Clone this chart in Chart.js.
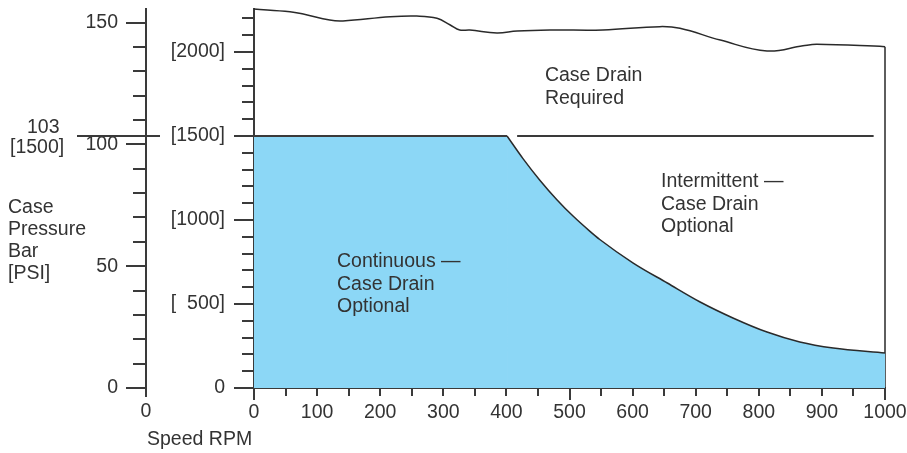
<!DOCTYPE html>
<html>
<head>
<meta charset="utf-8">
<title>Case Drain Requirements</title>
<script src="https://cdn.jsdelivr.net/npm/chart.js@4.4.1/dist/chart.umd.min.js"></script>
<style>
    html, body { margin: 0; padding: 0; background: #fff; }
    canvas { display: block; }
</style>
</head>
<body>
<canvas id="chartCanvas" width="907" height="453"></canvas>
<script>
// UNITS
const PSI_PER_BAR = 14.5038;
const psiMax = 2256;

// UPPER LIMIT - CASE DRAIN REQUIRED ABOVE
const limitRpm = [0, 57, 78, 120, 141, 216, 258, 290, 311, 326, 342, 385, 417, 469, 553, 643, 675, 739, 813, 870, 892, 1000];
const limitPsi = [2256, 2240, 2226, 2190, 2185, 2210, 2214, 2201, 2161, 2131, 2131, 2113, 2125, 2131, 2131, 2151, 2141, 2071, 2006, 2037, 2046, 2032];

// RIGHT EDGE AT MAX SPEED
const edgeRpm = [1000, 1000];
const edgePsi = [2032, 0];

// CONTINUOUS ZONE - FLAT PART
const flatRpm = [0, 401];
const flatPsi = [1500, 1500];

// CONTINUOUS ZONE - FALLING PART
const decayRpm = [401, 426, 453, 480, 506, 532, 548, 601, 655, 707, 759, 813, 865, 918, 1000];
const decayPsi = [1500, 1367, 1237, 1121, 1022, 934, 884, 744, 625, 512, 417, 333, 274, 238, 208];

// 1500 PSI DIVIDER (REQUIRED / INTERMITTENT)
const dividerRpm = [417, 982];
const dividerPsi = [1500, 1500];

// TICK LABELS
const rpmTicks = [0, 100, 200, 300, 400, 500, 600, 700, 800, 900, 1000];
const rpmTickLabels = ['0', '100', '200', '300', '400', '500', '600', '700', '800', '900', '1000'];
const psiTicks = [0, 500, 1000, 1500, 2000];
const psiTickLabels = ['0', '[  500]', '[1000]', '[1500]', '[2000]'];
const barTicks = [0, 50, 100, 150];
const barTickLabels = ['0', '50', '100', '150'];

const FONT_FAMILY = '"Liberation Sans", Arial, sans-serif';
const FONT_SIZE = 19.5;
const TEXT_COLOR = '#333';
const AXIS_COLOR = '#3a3a3a';
const FILL_COLOR = '#8cd7f6';

const regionLabels = [
    { rpm: 461, psi: 1827, lines: ['Case Drain', 'Required'] },
    { rpm: 645, psi: 1196, lines: ['Intermittent \u2014', 'Case Drain', 'Optional'] },
    { rpm: 131.5, psi: 720, lines: ['Continuous \u2014', 'Case Drain', 'Optional'] }
];

function toPoints(xs, ys) {
    return xs.map((x, i) => ({ x: x, y: ys[i] }));
}

function labelFrom(values, labels) {
    return (v) => {
        const i = values.indexOf(v);
        return i >= 0 ? labels[i] : '';
    };
}

function noPadding(scale) {
    scale.paddingLeft = 0;
    scale.paddingRight = 0;
    scale.paddingTop = 0;
    scale.paddingBottom = 0;
}

// TICK MARKS: LONGER ON LABELLED VALUES
const tickMarks = {
    id: 'tickMarks',
    afterDraw(chart) {
        const { ctx } = chart;
        const { x, y, bar } = chart.scales;
        ctx.save();
        ctx.strokeStyle = AXIS_COLOR;
        ctx.lineWidth = 2;
        ctx.beginPath();
        x.ticks.forEach(t => {
            const px = Math.round(x.getPixelForValue(t.value));
            const len = t.value % 500 === 0 ? 12 : 8;
            ctx.moveTo(px, x.top);
            ctx.lineTo(px, x.top + len);
        });
        y.ticks.forEach(t => {
            const py = Math.round(y.getPixelForValue(t.value));
            const len = t.value % 500 === 0 ? 20 : 12;
            ctx.moveTo(y.right, py);
            ctx.lineTo(y.right - len, py);
        });
        bar.ticks.forEach(t => {
            const py = Math.round(bar.getPixelForValue(t.value));
            const len = t.value % 50 === 0 ? 20 : 13;
            ctx.moveTo(bar.right, py);
            ctx.lineTo(bar.right - len, py);
        });
        // bar axis runs a little below zero
        ctx.moveTo(bar.right, bar.bottom);
        ctx.lineTo(bar.right, bar.bottom + 9);
        ctx.stroke();
        ctx.restore();
    }
};

// TEXT NOTES AND 103 BAR REFERENCE
const notes = {
    id: 'notes',
    afterDraw(chart) {
        const { ctx } = chart;
        const { x, y, bar } = chart.scales;
        ctx.save();
        ctx.font = FONT_SIZE + 'px ' + FONT_FAMILY;
        ctx.fillStyle = TEXT_COLOR;
        ctx.textBaseline = 'alphabetic';
        ctx.textAlign = 'left';

        regionLabels.forEach(r => {
            const px = x.getPixelForValue(r.rpm);
            const py = y.getPixelForValue(r.psi);
            r.lines.forEach((line, i) => ctx.fillText(line, px, py + i * 22.5));
        });

        const y1500 = Math.round(y.getPixelForValue(1500));
        ctx.strokeStyle = AXIS_COLOR;
        ctx.lineWidth = 2;
        ctx.beginPath();
        ctx.moveTo(bar.right - 69, y1500);
        ctx.lineTo(bar.right + 14, y1500);
        ctx.stroke();
        ctx.fillText('103', 27, y1500 - 3);
        ctx.fillText('[1500]', 10, y1500 + 17);

        ['Case', 'Pressure', 'Bar', '[PSI]'].forEach((line, i) => ctx.fillText(line, 8, 213 + i * 22));

        ctx.fillText('Speed RPM', bar.right + 1, 445);
        ctx.textAlign = 'center';
        ctx.textBaseline = 'middle';
        ctx.fillText('0', bar.right, x.top + 24);
        ctx.restore();
    }
};

const tickFont = { family: FONT_FAMILY, size: FONT_SIZE };

const ctx = document.getElementById('chartCanvas').getContext('2d');
new Chart(ctx, {
    type: 'line',
    data: {
        datasets: [
            {
                data: toPoints(flatRpm, flatPsi),
                borderColor: AXIS_COLOR,
                borderWidth: 2,
                backgroundColor: FILL_COLOR,
                fill: 'origin',
                tension: 0
            },
            {
                data: toPoints(decayRpm, decayPsi),
                borderColor: '#2a2a2a',
                borderWidth: 1.5,
                backgroundColor: FILL_COLOR,
                fill: 'origin',
                cubicInterpolationMode: 'monotone'
            },
            {
                data: toPoints(dividerRpm, dividerPsi),
                borderColor: AXIS_COLOR,
                borderWidth: 2,
                fill: false,
                tension: 0
            },
            {
                data: toPoints(limitRpm, limitPsi),
                borderColor: '#2a2a2a',
                borderWidth: 1.5,
                fill: false,
                tension: 0.4
            },
            {
                data: toPoints(edgeRpm, edgePsi),
                borderColor: '#2a2a2a',
                borderWidth: 1.5,
                fill: false,
                tension: 0
            }
        ]
    },
    options: {
        responsive: false,
        animation: false,
        events: [],
        layout: { padding: { left: 0, top: 9, right: 22, bottom: 0 } },
        elements: { point: { radius: 0 }, line: { capBezierPoints: false } },
        datasets: { line: { clip: false } },
        plugins: {
            legend: { display: false },
            tooltip: { enabled: false }
        },
        scales: {
            x: {
                type: 'linear',
                min: 0,
                max: 1000,
                grid: { display: false, drawTicks: true, tickLength: 8 },
                border: { display: true, color: AXIS_COLOR, width: 2 },
                ticks: {
                    stepSize: 50,
                    autoSkip: false,
                    maxRotation: 0,
                    minRotation: 0,
                    includeBounds: false,
                    padding: 5,
                    color: TEXT_COLOR,
                    font: tickFont,
                    callback: labelFrom(rpmTicks, rpmTickLabels)
                },
                afterFit(scale) {
                    scale.height = 65;
                    noPadding(scale);
                }
            },
            y: {
                type: 'linear',
                position: 'left',
                weight: 0,
                min: 0,
                max: psiMax,
                grid: { display: false, drawTicks: true, tickLength: 20 },
                border: { display: true, color: AXIS_COLOR, width: 2 },
                ticks: {
                    stepSize: 100,
                    autoSkip: false,
                    includeBounds: false,
                    padding: 9,
                    color: TEXT_COLOR,
                    font: tickFont,
                    callback: labelFrom(psiTicks, psiTickLabels)
                },
                afterFit(scale) {
                    scale.width = 108;
                    noPadding(scale);
                }
            },
            bar: {
                type: 'linear',
                position: 'left',
                weight: 1,
                min: 0,
                max: psiMax / PSI_PER_BAR,
                grid: { display: false, drawTicks: true, tickLength: 20 },
                border: { display: true, color: AXIS_COLOR, width: 2 },
                ticks: {
                    stepSize: 10,
                    autoSkip: false,
                    includeBounds: false,
                    padding: 8,
                    color: TEXT_COLOR,
                    font: tickFont,
                    callback: labelFrom(barTicks, barTickLabels)
                },
                afterFit(scale) {
                    scale.width = 146;
                    noPadding(scale);
                }
            }
        }
    },
    plugins: [tickMarks, notes]
});
</script>
</body>
</html>
